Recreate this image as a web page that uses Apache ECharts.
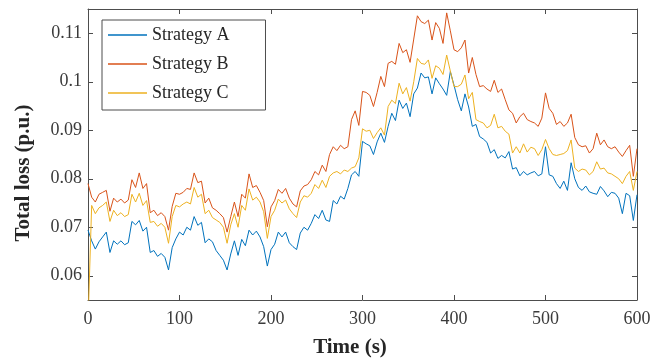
<!DOCTYPE html>
<html>
<head>
<meta charset="utf-8">
<script src="https://cdn.jsdelivr.net/npm/echarts@6/dist/echarts.min.js"></script>
<style>
html,body{margin:0;padding:0;background:#fff;}
#chart{width:665px;height:362px;}
</style>
</head>
<body>
<div id="chart"></div>
<script>
// time samples every 4 s from 0 to 600
const timeStep = 4;
const time = Array.from({length: 151}, (_, i) => i * timeStep);

const seriesNames = ['Strategy A', 'Strategy B', 'Strategy C'];
const xTicks = [0, 100, 200, 300, 400, 500, 600];
const yTicks = [0.06, 0.07, 0.08, 0.09, 0.1, 0.11];
const xTitle = 'Time (s)';
const yTitle = 'Total loss (p.u.)';

const strategyA = [
0.0694,0.0672,0.0655,0.0670,0.0680,0.0690,0.0648,0.0672,0.0665,0.0672,
0.0664,0.0668,0.0712,0.0705,0.0714,0.0692,0.0700,0.0648,0.0652,0.0640,
0.0646,0.0638,0.0612,0.0658,0.0676,0.0690,0.0684,0.0700,0.0694,0.0722,
0.0704,0.0710,0.0668,0.0676,0.0670,0.0652,0.0642,0.0632,0.0612,0.0645,
0.0672,0.0642,0.0675,0.0662,0.0694,0.0684,0.0692,0.0680,0.0660,0.0620,
0.0654,0.0665,0.0690,0.0680,0.0690,0.0668,0.0660,0.0654,0.0688,0.0700,
0.0694,0.0708,0.0726,0.0718,0.0735,0.0715,0.0712,0.0755,0.0748,0.0764,
0.0758,0.0780,0.0808,0.0815,0.0805,0.0877,0.0872,0.0868,0.0850,0.0876,
0.0894,0.0875,0.0908,0.0935,0.0920,0.0962,0.0945,0.0956,0.0928,0.0975,
0.0987,0.1018,0.1008,0.1010,0.0975,0.1008,0.0996,0.0985,0.0972,0.1021,
0.0993,0.0963,0.0940,0.0975,0.0948,0.0908,0.0912,0.0887,0.0882,0.0875,
0.0853,0.0860,0.0842,0.0848,0.0843,0.0856,0.0820,0.0823,0.0806,0.0815,
0.0808,0.0812,0.0815,0.0806,0.0810,0.0866,0.0808,0.0805,0.0790,0.0780,
0.0795,0.0776,0.0833,0.0800,0.0782,0.0776,0.0785,0.0773,0.0770,0.0768,
0.0784,0.0775,0.0763,0.0772,0.0770,0.0760,0.0728,0.0770,0.0765,0.0714,
0.0767
];

const strategyB = [
0.0790,0.0762,0.0752,0.0768,0.0772,0.0776,0.0733,0.0760,0.0752,0.0758,
0.0750,0.0756,0.0798,0.0782,0.0812,0.0780,0.0790,0.0730,0.0735,0.0724,
0.0730,0.0722,0.0694,0.0743,0.0770,0.0768,0.0772,0.0780,0.0778,0.0812,
0.0792,0.0795,0.0750,0.0760,0.0740,0.0735,0.0728,0.0720,0.0690,0.0722,
0.0752,0.0722,0.0768,0.0760,0.0810,0.0782,0.0786,0.0772,0.0755,0.0701,
0.0742,0.0755,0.0778,0.0770,0.0780,0.0760,0.0748,0.0742,0.0775,0.0785,
0.0788,0.0798,0.0815,0.0808,0.0828,0.0815,0.0850,0.0866,0.0858,0.0869,
0.0862,0.0866,0.0922,0.0940,0.0910,0.0980,0.0978,0.0972,0.0949,0.0978,
0.1011,0.0990,0.1038,0.1042,0.1036,0.1079,0.1060,0.1066,0.1040,0.1088,
0.1136,0.1124,0.1120,0.1127,0.1086,0.1122,0.1110,0.1079,0.1142,0.1105,
0.1066,0.1062,0.1070,0.1086,0.1018,0.1050,0.1015,0.0990,0.0992,0.0985,
0.0980,0.1003,0.0978,0.0985,0.0963,0.0942,0.0935,0.0915,0.0928,0.0935,
0.0922,0.0918,0.0915,0.0908,0.0925,0.0977,0.0945,0.0935,0.0912,0.0918,
0.0908,0.0915,0.0933,0.0885,0.0870,0.0866,0.0868,0.0853,0.0862,0.0894,
0.0870,0.0880,0.0866,0.0862,0.0866,0.0855,0.0846,0.0858,0.0869,0.0805,
0.0862
];

const strategyC = [
0.0500,0.0745,0.0728,0.0740,0.0745,0.0752,0.0712,0.0735,0.0724,0.0730,
0.0722,0.0726,0.0768,0.0752,0.0770,0.0745,0.0755,0.0710,0.0712,0.0702,
0.0708,0.0700,0.0667,0.0722,0.0745,0.0742,0.0748,0.0752,0.0748,0.0782,
0.0762,0.0768,0.0728,0.0735,0.0720,0.0715,0.0710,0.0700,0.0667,0.0705,
0.0728,0.0700,0.0745,0.0735,0.0779,0.0756,0.0762,0.0752,0.0732,0.0677,
0.0722,0.0735,0.0758,0.0750,0.0756,0.0738,0.0728,0.0720,0.0752,0.0765,
0.0762,0.0770,0.0788,0.0780,0.0797,0.0782,0.0805,0.0812,0.0815,0.0810,
0.0818,0.0815,0.0822,0.0825,0.0843,0.0903,0.0898,0.0900,0.0883,0.0895,
0.0905,0.0890,0.0949,0.0962,0.0955,0.0997,0.0975,0.0988,0.0960,0.1000,
0.1048,0.1038,0.1036,0.1045,0.1007,0.1033,0.1028,0.1015,0.1055,0.1022,
0.0990,0.0990,0.0995,0.1014,0.0965,0.0978,0.0922,0.0918,0.0915,0.0905,
0.0910,0.0933,0.0905,0.0908,0.0898,0.0892,0.0853,0.0866,0.0853,0.0872,
0.0855,0.0865,0.0862,0.0848,0.0860,0.0881,0.0862,0.0850,0.0848,0.0850,
0.0852,0.0858,0.0880,0.0822,0.0815,0.0820,0.0818,0.0808,0.0815,0.0835,
0.0820,0.0822,0.0812,0.0810,0.0805,0.0800,0.0790,0.0805,0.0815,0.0776,
0.0815
];

const colors = ['#0072BD', '#D95319', '#EDB120'];
const serif = '"Liberation Serif", "Times New Roman", "DejaVu Serif", serif';
const axisColor = '#4d4d4d';
const labelColor = '#3a3a3a';

const toPairs = arr => time.map((t, i) => [t, arr[i]]);
const values = [strategyA, strategyB, strategyC];

const chart = echarts.init(document.getElementById('chart'), null, {renderer: 'canvas'});

const baseX = {
  type: 'value', min: 0, max: 600, interval: 100,
  axisLine: {show: true, onZero: false, lineStyle: {color: axisColor, width: 1}},
  axisTick: {show: true, inside: true, length: 5, lineStyle: {color: axisColor}},
  splitLine: {show: false}
};
const baseY = {
  type: 'value', min: 0.055, max: 0.115,
  axisLine: {show: true, onZero: false, lineStyle: {color: axisColor, width: 1}},
  axisTick: {show: true, inside: true, length: 5, customValues: yTicks, lineStyle: {color: axisColor}},
  splitLine: {show: false}
};

chart.setOption({
  animation: false,
  backgroundColor: '#ffffff',
  color: colors,
  grid: {left: 88, right: 28, top: 9, bottom: 62, containLabel: false},
  legend: {
    orient: 'vertical',
    left: 102, top: 20,
    data: seriesNames,
    icon: 'path://M0,0 L300,0 L300,10 L0,10 Z',
    itemWidth: 39, itemHeight: 1.3, itemGap: 11,
    padding: [6, 36, 8, 6],
    borderColor: '#4d4d4d', borderWidth: 1, backgroundColor: '#fff',
    textStyle: {fontFamily: serif, fontSize: 18, color: '#262626', lineHeight: 18}
  },
  graphic: [
    {type: 'text', x: 350, y: 348, silent: true,
     style: {text: xTitle, fontFamily: serif, fontSize: 21, fontWeight: 'bold', fill: '#262626', align: 'center', verticalAlign: 'middle'}},
    {type: 'text', x: 24, y: 173, rotation: Math.PI / 2, silent: true,
     style: {text: yTitle, fontFamily: serif, fontSize: 21, fontWeight: 'bold', fill: '#262626', align: 'center', verticalAlign: 'middle'}}
  ],
  xAxis: [
    Object.assign({}, baseX, {
      position: 'bottom',
      axisLabel: {show: true, margin: 10, fontFamily: serif, fontSize: 18, color: labelColor}
    }),
    Object.assign({}, baseX, {position: 'top', axisLabel: {show: false}})
  ],
  yAxis: [
    Object.assign({}, baseY, {
      position: 'left',
      axisLabel: {show: true, margin: 6, customValues: yTicks, fontFamily: serif, fontSize: 18, color: labelColor,
        formatter: v => String(+v.toFixed(4))}
    }),
    Object.assign({}, baseY, {position: 'right', axisLabel: {show: false}})
  ],
  series: seriesNames.map((name, k) => ({
    name: name,
    type: 'line',
    xAxisIndex: 0, yAxisIndex: 0,
    data: toPairs(values[k]),
    symbol: 'none',
    clip: true,
    lineStyle: {width: 1, color: colors[k]},
    emphasis: {disabled: true}
  }))
});
</script>
</body>
</html>
